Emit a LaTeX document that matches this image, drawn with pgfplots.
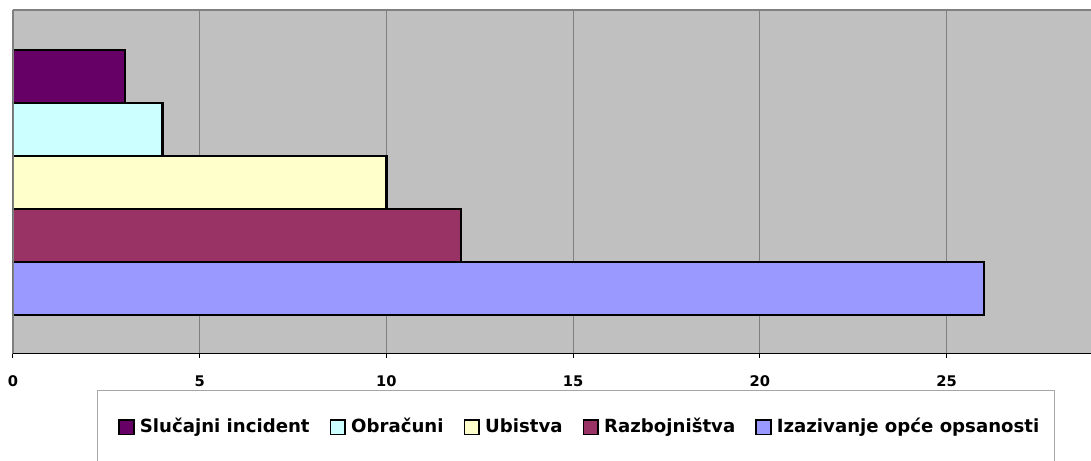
\documentclass[border=0pt]{standalone}
\usepackage{pgfplots}
\pgfplotsset{compat=1.18}
\usepackage{fontspec}
\setmainfont{DejaVu Sans}
\definecolor{bgGray}{HTML}{C0C0C0}
\definecolor{gridGray}{HTML}{808080}
\definecolor{cPurple}{HTML}{660066}
\definecolor{cCyan}{HTML}{CCFFFF}
\definecolor{cYellow}{HTML}{FFFFCC}
\definecolor{cPlum}{HTML}{993366}
\definecolor{cBlue}{HTML}{9999FF}
\begin{document}
\begin{tikzpicture}
\useasboundingbox (0,0) rectangle (818.25pt,345pt);
\clip (0,0) rectangle (818.25pt,345pt);
% legend frame
\draw[gray!70, line width=0.75pt, fill=white] (72.75pt,51.75pt) rectangle (790.5pt,-20pt);
\begin{axis}[
  at={(9.75pt,79.5pt)}, anchor=south west,
  scale only axis, width=808.5pt, height=258pt,
  xmin=0, xmax=28.87, ymin=-1.2358, ymax=5.2547,
  axis line style={draw=none},
  axis background/.style={fill=bgGray},
  xtick={0,5,10,15,20,25}, ytick=\empty,
  xtick pos=bottom, tick align=outside,
  major tick length=3pt,
  xtick style={draw=black, line width=0.75pt},
  xmajorgrids, grid style={gridGray, line width=0.75pt},
  /pgf/number format/assume math mode=true,
  xticklabel style={font=\bfseries\fontsize{11}{13}\selectfont, yshift=-10pt},
  legend columns=-1,
  legend style={draw=none, fill=none, at={(0.0974,-0.2175)}, anchor=west,
    inner sep=0pt, font=\bfseries\fontsize{13.6}{15}\selectfont,
    nodes={text depth=0.25em, text height=0.75em},
    /tikz/every even column/.append style={column sep=13pt},
    /tikz/every odd column/.append style={column sep=2pt}},
  legend image code/.code={\draw[#1, draw=black, line width=1.2pt] (0pt,-4.2pt) rectangle (11pt,6.8pt);},
]
\addplot[xbar, bar width=39.75pt, bar shift=0pt, fill=cPurple, draw=black, line width=1.8pt] coordinates {(3,4)};
\addlegendentry{Slučajni incident}
\addplot[xbar, bar width=39.75pt, bar shift=0pt, fill=cCyan, draw=black, line width=1.8pt] coordinates {(4,3)};
\addlegendentry{Obračuni}
\addplot[xbar, bar width=39.75pt, bar shift=0pt, fill=cYellow, draw=black, line width=1.8pt] coordinates {(10,2)};
\addlegendentry{Ubistva}
\addplot[xbar, bar width=39.75pt, bar shift=0pt, fill=cPlum, draw=black, line width=1.8pt] coordinates {(12,1)};
\addlegendentry{Razbojništva}
\addplot[xbar, bar width=39.75pt, bar shift=0pt, fill=cBlue, draw=black, line width=1.8pt] coordinates {(26,0)};
\addlegendentry{Izazivanje opće opsanosti}
\draw[gridGray, line width=1pt] (rel axis cs:0,0) -- (rel axis cs:0,1) -- (rel axis cs:1,1);
\draw[black, line width=1pt] (rel axis cs:0,0) -- (rel axis cs:1,0);
\end{axis}
\end{tikzpicture}
\end{document}
